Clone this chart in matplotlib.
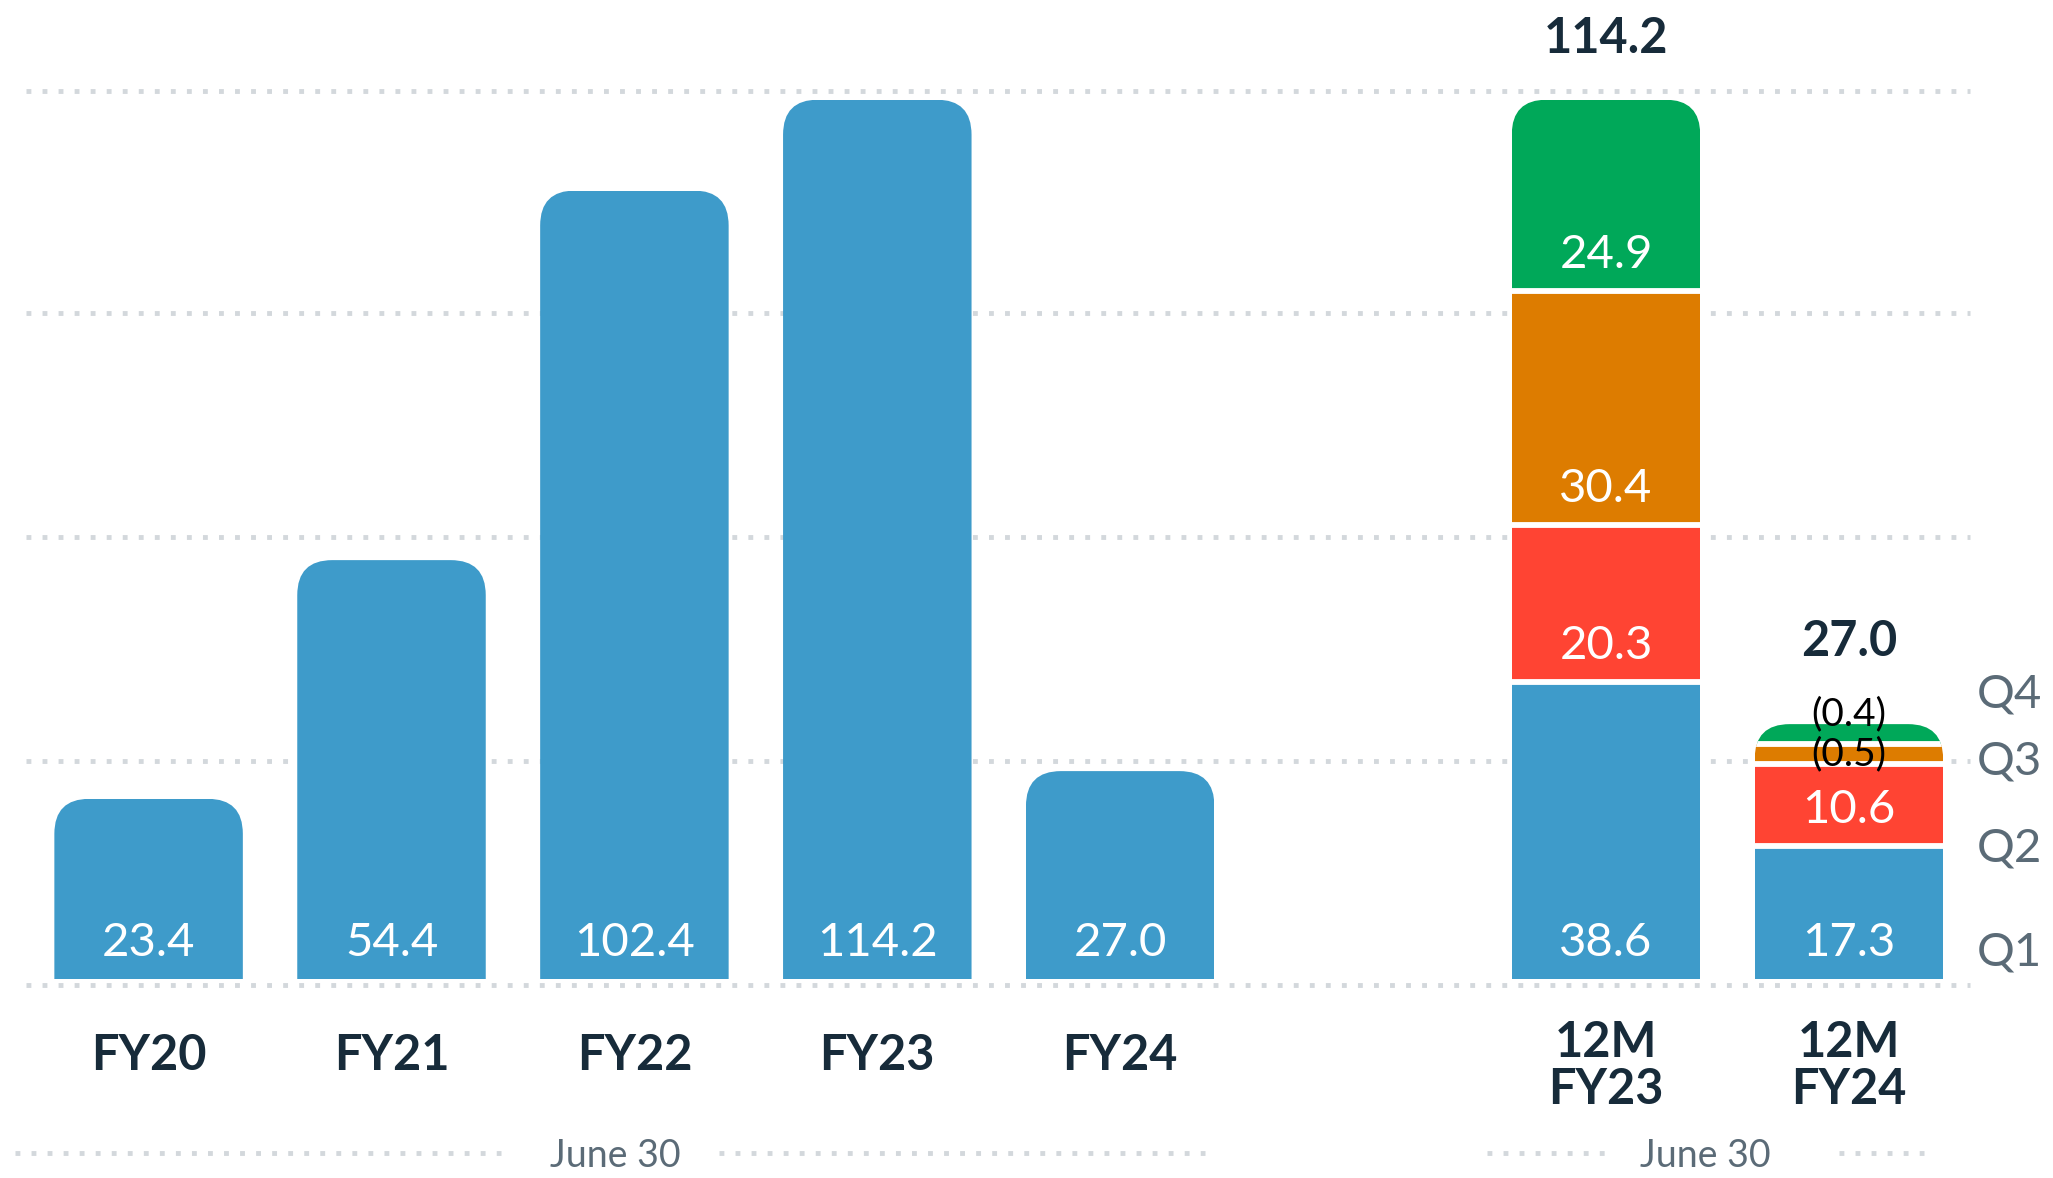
import matplotlib
matplotlib.use("Agg")
import matplotlib.pyplot as plt
from matplotlib.path import Path

# ---- data ----
years = ["FY20", "FY21", "FY22", "FY23", "FY24"]
yearValues = [23.4, 54.4, 102.4, 114.2, 27.0]
ttmLabels = ["12M\nFY23", "12M\nFY24"]
quarterNames = ["Q1", "Q2", "Q3", "Q4"]
ttmFY23 = [38.6, 20.3, 30.4, 24.9]
ttmFY24 = [17.3, 10.6, -0.5, -0.4]
ttmTotals = [114.2, 27.0]
periodNote = "June 30"

# ---- style ----
BLUE = "#3E9BCA"
QCOLORS = [BLUE, "#FF4433", "#DD7C00", "#00A859"]
DARK = "#172B3A"
GREY = "#5B6B77"
DOTS = "#D3D8DC"
FONT = ["Lato", "DejaVu Sans"]
WIDTH = 0.776
MIN_SEG = 2.6      # smallest visible segment height
PX_X = 242.9       # pixels per x unit
PX_Y = 7.7         # pixels per y unit
RADIUS = 35        # corner radius in pixels


def roundedTop(x0, x1, y0, y1):
    rx = RADIUS / PX_X
    ry = min(RADIUS / PX_Y, y1 - y0)
    verts = [(x0, y0), (x0, y1 - ry), (x0, y1), (x0 + rx, y1),
             (x1 - rx, y1), (x1, y1), (x1, y1 - ry), (x1, y0), (x0, y0)]
    codes = [Path.MOVETO, Path.LINETO, Path.CURVE3, Path.CURVE3,
             Path.LINETO, Path.CURVE3, Path.CURVE3, Path.LINETO, Path.CLOSEPOLY]
    return Path(verts, codes)


def fmt(v):
    return f"({abs(v):.1f})" if v < 0 else f"{v:.1f}"


def drawStack(ax, x, values, colors):
    shown = [v if v >= MIN_SEG else MIN_SEG for v in values]
    top = sum(shown)
    clip = roundedTop(x - WIDTH / 2, x + WIDTH / 2, 0, top)
    bottom = 0
    for v, h, c in zip(values, shown, colors):
        bar = ax.bar(x, h, WIDTH, bottom=bottom, color=c, zorder=2)[0]
        bar.set_clip_path(clip, ax.transData)
        if v >= MIN_SEG:
            ax.annotate(fmt(v), (x, bottom), xytext=(0, 26), textcoords="offset points",
                        ha="center", va="center", color="white", fontsize=34,
                        family=FONT, zorder=4)
        bottom += h
    # white separators between segments
    bottom = 0
    for h in shown[:-1]:
        bottom += h
        line = ax.hlines(bottom, x - WIDTH / 2, x + WIDTH / 2, color="white", lw=4.2, zorder=3)
        line.set_clip_path(clip, ax.transData)
    return shown, top


fig = plt.figure(figsize=(20.53, 11.78), dpi=100)
ax = fig.add_axes([0, 0, 1, 1])
ax.set_xlim(-148.6 / PX_X, (2053 - 148.6) / PX_X)
ax.set_ylim(-199 / PX_Y, (1178 - 199) / PX_Y)
ax.axis("off")

# dotted grid
for g in [-0.78, 28.3, 57.4, 86.5, 115.3]:
    ax.hlines(g, -0.505, 7.5, color=DOTS, lw=3.5, linestyles=(0, (1, 2.3)), zorder=1)

# yearly bars
for i, (name, v) in enumerate(zip(years, yearValues)):
    drawStack(ax, i, [v], [BLUE])
    ax.text(i, -9.9, name, ha="center", va="center", fontsize=35,
            fontweight="bold", color=DARK, family=FONT)

# trailing twelve months stacks
for j, (name, vals, total) in enumerate(zip(ttmLabels, [ttmFY23, ttmFY24], ttmTotals)):
    x = 6 + j
    shown, top = drawStack(ax, x, vals, QCOLORS)
    bottom = 0
    hasNeg = False
    for k, (v, h) in enumerate(zip(vals, shown)):
        if v < 0:
            hasNeg = True
            lift = 0 if k < len(vals) - 1 else 20
            ax.annotate(fmt(v), (x, bottom + h / 2), xytext=(0, lift * 0.72),
                        textcoords="offset points", ha="center", va="center",
                        fontsize=28, color="black", family=FONT, zorder=5)
        bottom += h
    off = 61 + (22 if hasNeg else 0)
    ax.annotate(f"{total:.1f}", (x, top), xytext=(0, off * 0.72), textcoords="offset points",
                ha="center", va="center", fontsize=35, fontweight="bold", color=DARK, family=FONT)
    ax.text(x, -11.3, name, ha="center", va="center", fontsize=35, fontweight="bold",
            color=DARK, family=FONT, linespacing=1.05)

# quarter legend on the right
for q, y in zip(quarterNames, [3.4, 17.0, 28.2, 36.9]):
    ax.text(7.66, y, q, ha="center", va="center", fontsize=34, color=GREY, family=FONT)

# "June 30" brackets
for segs, xc in [([(-0.55, 1.45), (2.35, 4.35)], 1.92), ([(5.51, 6.0), (6.96, 7.31)], 6.41)]:
    for a, b in segs:
        ax.hlines(-22.6, a, b, color=DOTS, lw=3.5, linestyles=(0, (1, 2.3)))
    ax.text(xc, -23.0, periodNote, ha="center", va="center", fontsize=27,
            color=GREY, family=FONT)

fig.savefig("out.png", dpi=100)
